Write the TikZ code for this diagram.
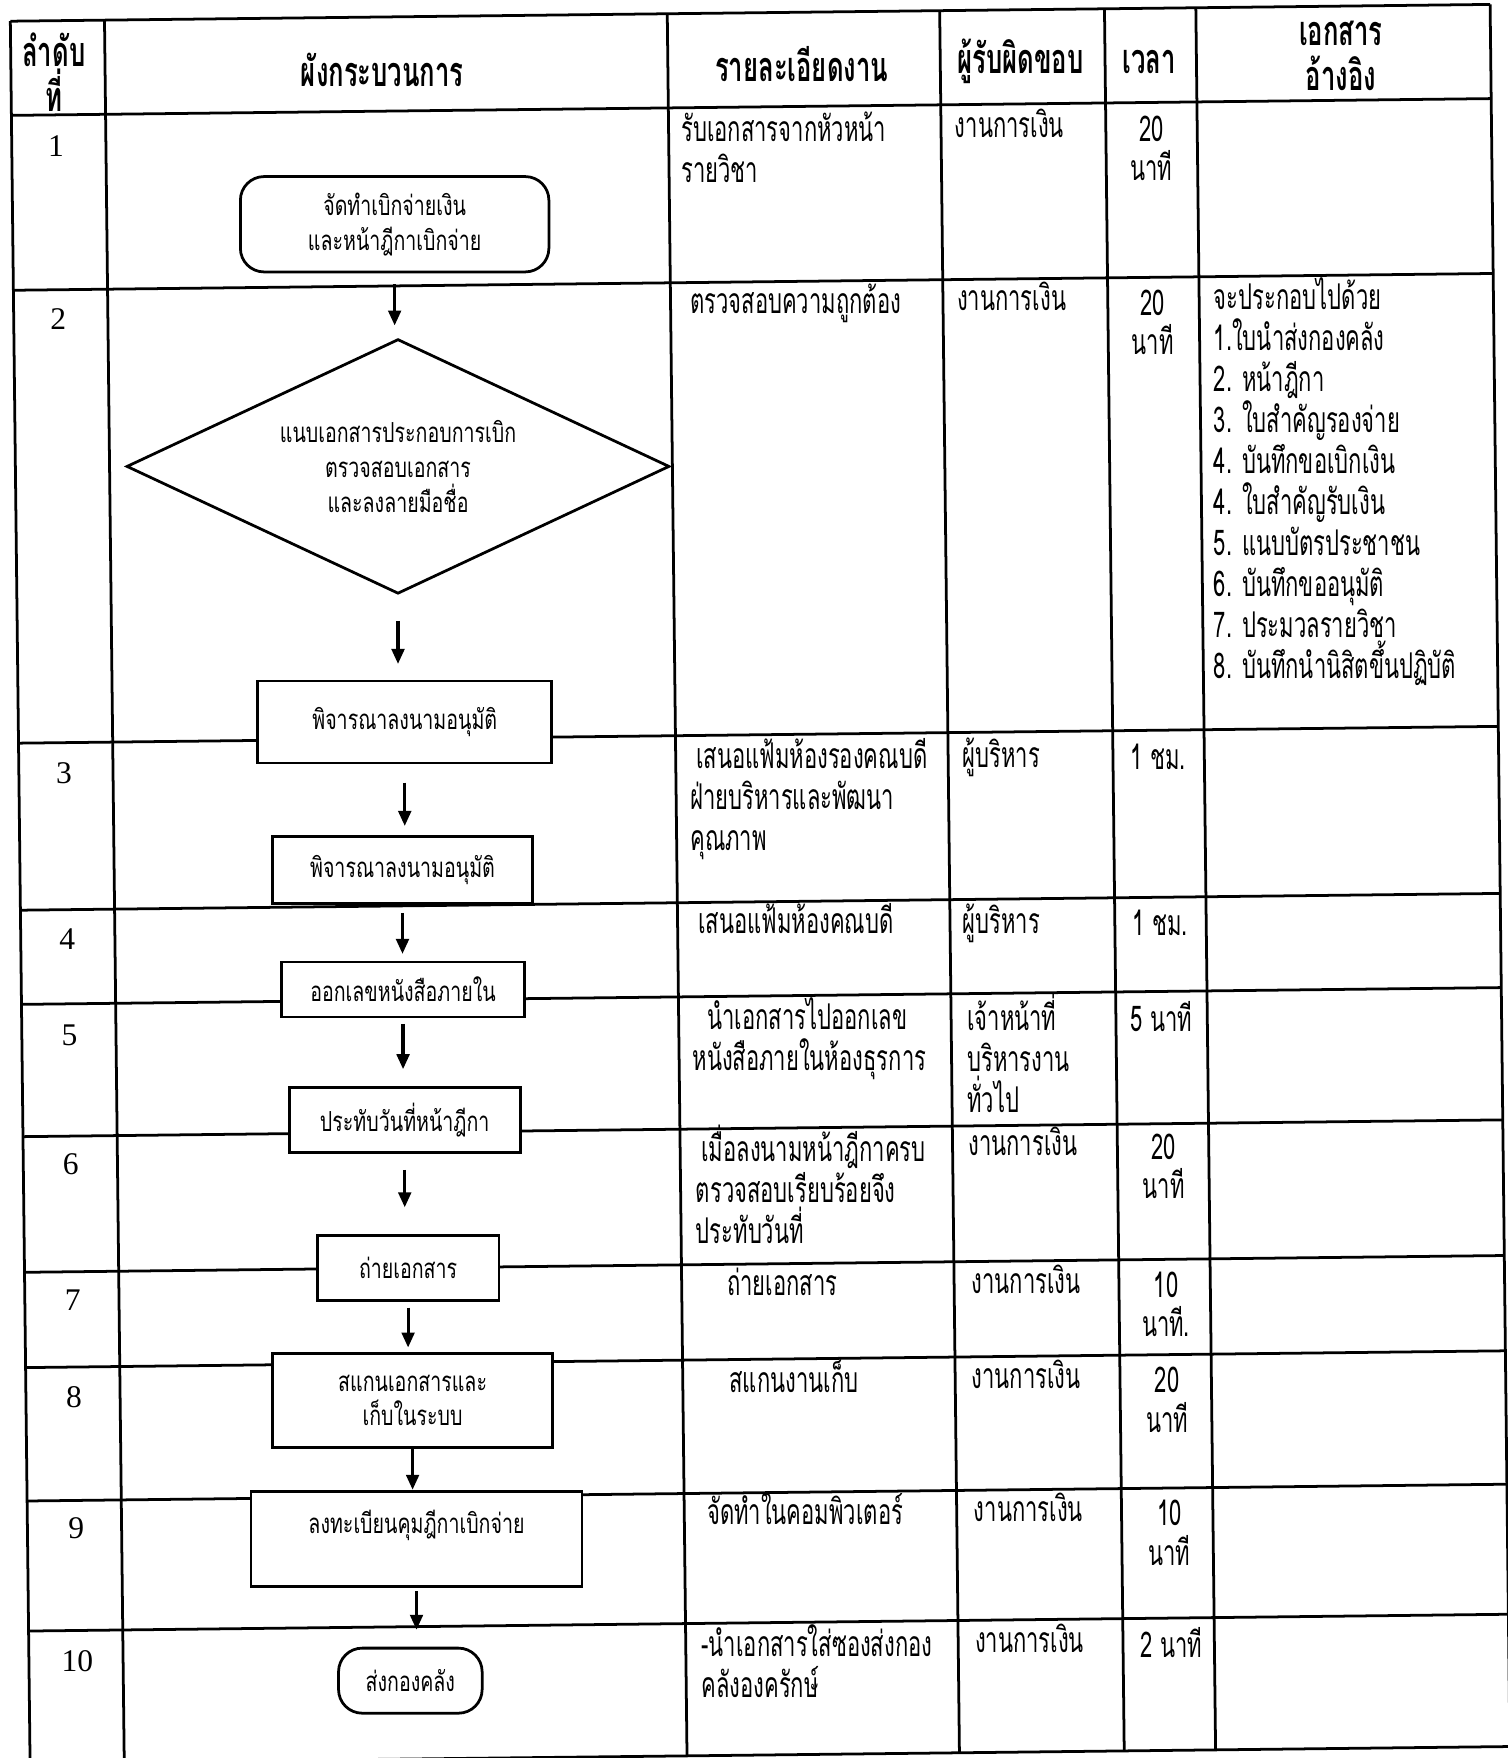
\documentclass[tikz,border=0pt]{standalone}
\usepackage{fontspec}
\usepackage{tikz}
\usetikzlibrary{arrows.meta, shapes.geometric}
\newfontfamily\thaitext[Script=Thai, FakeStretch=0.62]{Loma}
\newfontfamily\thaiflow[Script=Thai, FakeStretch=0.71]{Loma}
\newfontfamily\numfont{Liberation Serif}

\begin{document}
\begin{tikzpicture}[x=0.01cm, y=-0.01cm, >={Triangle[length=3.8pt, width=3.2pt]},
  grid/.style={line width=0.7pt},
  head/.style={font=\thaitext\bfseries\fontsize{10.5}{11.4}\selectfont, align=center, inner sep=0pt},
  num/.style={font=\numfont\fontsize{8}{10}\selectfont, inner sep=0pt},
  txt/.style={font=\thaitext\fontsize{9}{10.4}\selectfont, align=left, anchor=west, inner sep=0pt,
    execute at begin node=\strut, execute at end node=\strut},
  tm/.style={font=\thaitext\fontsize{9}{10}\selectfont, align=center, inner sep=0pt},
  box/.style={draw, line width=0.7pt, fill=white, font=\thaiflow\fontsize{7}{8.8}\selectfont, align=center, inner sep=0pt},
  rbox/.style={box, rounded corners=6pt},
  flow/.style={->, line width=0.8pt}]
  \useasboundingbox (0,0) rectangle (1345,1568);

  % Table grid (the scan is a little tilted)
  \begin{scope}[rotate=0.65]
    \foreach \y in {19, 103, 259, 663, 812, 896, 1014, 1135, 1220, 1339, 1455, 1573}
      \draw[grid] (9,\y) -- (1329,\y);
    \foreach \x in {9, 93, 595, 838, 985, 1066.5, 1329}
      \draw[grid] (\x,19) -- (\x,1573);
  \end{scope}

  % Header
  \node[head] (hNo) at (48,64) {ลำดับ\\ที่};
  \node[head] (hFlow) at (341,62) {ผังกระบวนการ};
  \node[head] (hTask) at (715,57) {รายละเอียดงาน};
  \node[head] (hResp) at (910,55) {ผู้รับผิดขอบ};
  \node[head] (hTime) at (1025,55) {เวลา};
  \node[head] (hDoc) at (1196,50) {เอกสาร\\อ้างอิง};

  % Step numbers
  \node[num] (no1) at (50,130) {1};
  \node[num] (no2) at (52,285) {2};
  \node[num] (no3) at (57,690) {3};
  \node[num] (no4) at (60,838) {4};
  \node[num] (no5) at (62,923) {5};
  \node[num] (no6) at (63,1038) {6};
  \node[num] (no7) at (65,1160) {7};
  \node[num] (no8) at (66,1246) {8};
  \node[num] (no9) at (68,1363) {9};
  \node[num] (no10) at (69,1482) {10};

  % Flow chart
  \node[rbox, minimum width=2.75cm, minimum height=0.85cm] (n1) at (352,200) {จัดทำเบิกจ่ายเงิน\\และหน้าฎีกาเบิกจ่าย};
  \node[box, diamond, shape aspect=2.13, minimum width=4.84cm, minimum height=2.27cm] (d2) at (355,416) {แนบเอกสารประกอบการเบิก\\ตรวจสอบเอกสาร\\และลงลายมือชื่อ};
  \node[box, minimum width=2.62cm, minimum height=0.73cm] (n3) at (361,644) {พิจารณาลงนามอนุมัติ};
  \node[box, minimum width=2.32cm, minimum height=0.6cm] (n4) at (359,776) {พิจารณาลงนามอนุมัติ};
  \node[box, minimum width=2.17cm, minimum height=0.49cm] (n5) at (359.5,882.5) {ออกเลขหนังสือภายใน};
  \node[box, minimum width=2.06cm, minimum height=0.58cm] (n6) at (361,999) {ประทับวันที่หน้าฎีกา};
  \node[box, minimum width=1.62cm, minimum height=0.58cm] (n7) at (364,1131) {ถ่ายเอกสาร};
  \node[box, minimum width=2.5cm, minimum height=0.84cm] (n8) at (368,1249) {สแกนเอกสารและ\\เก็บในระบบ};
  \node[box, minimum width=2.95cm, minimum height=0.85cm] (n9) at (371.5,1372.5) {ลงทะเบียนคุมฎีกาเบิกจ่าย\\\mbox{}};
  \node[rbox, minimum width=1.28cm, minimum height=0.58cm] (n10) at (366,1499) {ส่งกองคลัง};

  \draw[flow, shorten <=2.8pt, shorten >=3.1pt] (n1.south) -- (n1.south |- d2.north);
  \draw[flow, shorten <=6.5pt, shorten >=4pt] (d2.south) -- (d2.south |- n3.north);
  \draw[flow, shorten <=4.6pt, shorten >=2.3pt] (n3.south) -- (n3.south |- n4.north);
  \draw[flow, shorten <=2pt, shorten >=1.7pt] (n4.south) -- (n4.south |- n5.north);
  \draw[flow, shorten <=1.4pt, shorten >=4.3pt] (n5.south) -- (n5.south |- n6.north);
  \draw[flow, shorten <=4pt, shorten >=6.8pt] (n6.south) -- (n6.south |- n7.north);
  \draw[flow, shorten <=1.4pt, shorten >=1.1pt] (n7.south) -- (n7.south |- n8.north);
  \draw[flow] (n8.south) -- (n8.south |- n9.north);
  \draw[flow, shorten <=0.9pt, shorten >=4.3pt] (n9.south) -- (n9.south |- n10.north);

  % Task details
  \node[txt] (t1) at (607,136.5) {รับเอกสารจากหัวหน้า\\รายวิชา};
  \node[txt] (t2) at (615,272) {ตรวจสอบความถูกต้อง};
  \node[txt] (t3) at (615,714) {\hspace{1.5pt}เสนอแฟ้มห้องรองคณบดี\\ฝ่ายบริหารและพัฒนา\\คุณภาพ};
  \node[txt] (t4) at (622,825) {เสนอแฟ้มห้องคณบดี};
  \node[txt] (t5) at (617,928) {\hspace{3.7pt}นำเอกสารไปออกเลข\\หนังสือภายในห้องธุรการ};
  \node[txt] (t6) at (620,1061.5) {\hspace{1.4pt}เมื่อลงนามหน้าฎีกาครบ\\ตรวจสอบเรียบร้อยจึง\\ประทับวันที่};
  \node[txt] (t7) at (648,1148) {ถ่ายเอกสาร};
  \node[txt] (t8) at (650,1233) {สแกนงานเก็บ};
  \node[txt] (t9) at (630,1351) {จัดทำในคอมพิวเตอร์};
  \node[txt] (t10) at (625,1487) {-นำเอกสารใส่ซองส่งกอง\\คลังองครักษ์};

  % Responsible
  \node[txt] (r1) at (851,115) {งานการเงิน};
  \node[txt] (r2) at (853,270) {งานการเงิน};
  \node[txt] (r3) at (858,677) {ผู้บริหาร};
  \node[txt] (r4) at (858,825) {ผู้บริหาร};
  \node[txt] (r5) at (862,945) {เจ้าหน้าที่\\บริหารงาน\\ทั่วไป};
  \node[txt] (r6) at (863,1023) {งานการเงิน};
  \node[txt] (r7) at (866,1146) {งานการเงิน};
  \node[txt] (r8) at (866,1231) {งานการเงิน};
  \node[txt] (r9) at (868,1350) {งานการเงิน};
  \node[txt] (r10) at (869,1467) {งานการเงิน};

  % Time
  \node[tm] (m1) at (1027,132.5) {20\\นาที};
  \node[tm] (m2) at (1028,287.5) {20\\นาที};
  \node[tm] (m3) at (1033,675) {1 ชม.};
  \node[tm] (m4) at (1035,823) {1 ชม.};
  \node[tm] (m5) at (1036,907) {5 นาที};
  \node[tm] (m6) at (1038,1040.5) {20\\นาที};
  \node[tm] (m7) at (1040,1163.5) {10\\นาที.};
  \node[tm] (m8) at (1041,1248.5) {20\\นาที};
  \node[tm] (m9) at (1043,1367) {10\\นาที};
  \node[tm] (m10) at (1045,1465) {2 นาที};

  % Reference documents
  \node[txt] (doc2) at (1082,432) {จะประกอบไปด้วย\\1.ใบนำส่งกองคลัง\\2. หน้าฎีกา\\3. ใบสำคัญรองจ่าย\\4. บันทึกขอเบิกเงิน\\4. ใบสำคัญรับเงิน\\5. แนบบัตรประชาชน\\6. บันทึกขออนุมัติ\\7. ประมวลรายวิชา\\8. บันทึกนำนิสิตขึ้นปฏิบัติ};
\end{tikzpicture}
\end{document}
